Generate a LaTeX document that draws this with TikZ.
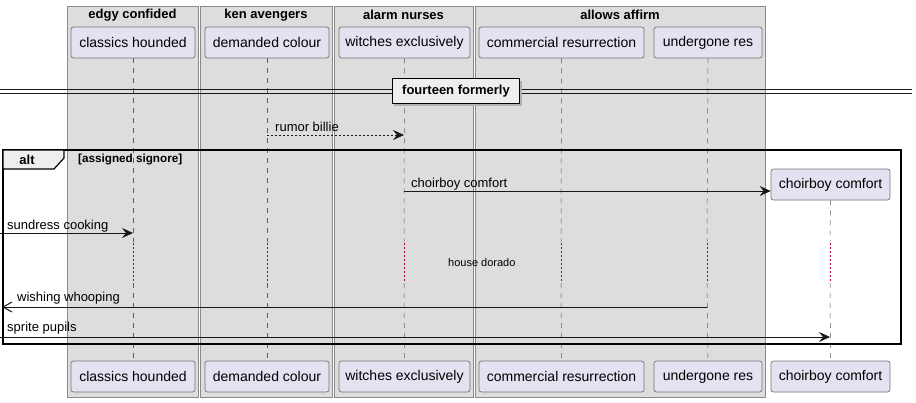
\documentclass[tikz,border=0pt]{standalone}
\usepackage{fontspec}
\setmainfont{Liberation Sans}
\usetikzlibrary{arrows.meta}
\definecolor{partfill}{HTML}{E2E2F0}
\definecolor{partline}{HTML}{181818}
\definecolor{boxfill}{HTML}{DDDDDD}
\definecolor{boxline}{HTML}{8A8A8A}
\definecolor{delayc}{HTML}{A80036}
\definecolor{tabfill}{HTML}{EEEEEE}
\tikzset{
  grpbox/.style={draw=boxline, fill=boxfill, line width=0.8pt},
  grptitle/.style={font=\fontsize{13}{15}\selectfont\bfseries, inner sep=0pt},
  part/.style={draw=partline!60, fill=partfill, rounded corners=2.5pt, line width=0.7pt,
    minimum height=31pt, inner sep=0pt, font=\fontsize{14}{16}\selectfont},
  life/.style={draw=partline!70, line width=0.5pt, dash pattern=on 5pt off 5pt},
  delaydot/.style={fill=delayc},
  msg/.style={draw=partline, line width=0.8pt, -{Stealth[length=11pt,width=10pt,inset=4pt]}},
  msgdash/.style={msg, dash pattern=on 2pt off 2pt},
  msgopen/.style={draw=partline, line width=0.8pt, -{Straight Barb[length=9pt,width=10pt,line width=1pt]}},
  lbl/.style={font=\fontsize{13}{15}\selectfont, inner sep=0pt, anchor=base west},
  small/.style={font=\fontsize{11}{13}\selectfont, inner sep=0pt},
}
\begin{document}
\begin{tikzpicture}[x=1pt,y=-1pt]
\useasboundingbox (0,0) rectangle (916,402);
% group boxes
\draw[grpbox] (67,6) rectangle (198,397);
\draw[grpbox] (200,6) rectangle (332,397);
\draw[grpbox] (334,6) rectangle (473,397);
\draw[grpbox] (475,6) rectangle (765,397);
\node[grptitle] (g1) at (132.5,15) {edgy confided};
\node[grptitle] (g2) at (266,15) {ken avengers};
\node[grptitle] (g3) at (403.5,15) {alarm nurses};
\node[grptitle] (g4) at (620,15) {allows affirm};
% participants top
\node[part, minimum width=124pt] (a1) at (133,42.5) {classics hounded};
\node[part, minimum width=124pt] (b1) at (267,42.5) {demanded colour};
\node[part, minimum width=131pt] (c1) at (404.5,42.5) {witches exclusively};
\node[part, minimum width=165pt] (d1) at (561.5,42.5) {commercial resurrection};
\node[part, minimum width=108pt] (e1) at (708,42.5) {undergone res};
\node[part, minimum width=119pt] (f1) at (830.5,184.5) {choirboy comfort};
% participants bottom
\node[part, minimum width=124pt] (a2) at (133,376.5) {classics hounded};
\node[part, minimum width=124pt] (b2) at (267,376.5) {demanded colour};
\node[part, minimum width=131pt] (c2) at (404.5,376.5) {witches exclusively};
\node[part, minimum width=165pt] (d2) at (561.5,376.5) {commercial resurrection};
\node[part, minimum width=108pt] (e2) at (708,376.5) {undergone res};
\node[part, minimum width=119pt] (f2) at (830.5,376.5) {choirboy comfort};
% lifelines with delay
\foreach \p/\q/\x in {a1/a2/133, b1/b2/267, c1/c2/404, d1/d2/561, e1/e2/707, f1/f2/830}{
  \coordinate (\p d1) at (\x,242);
  \coordinate (\p d2) at (\x,283);
  \draw[life] (\p.south) -- (\p d1);
  \foreach \yy in {243,247,...,281}{
    \fill[delaydot] (\x-0.5,\yy) rectangle (\x+0.6,\yy+1.6);
  }
  \draw[life] (\p d2) -- (\q.north);
}
% divider
\coordinate (dl) at (0,89);
\coordinate (dr) at (912,89);
\coordinate (dl2) at (0,93);
\coordinate (dr2) at (912,93);
\draw[partline, line width=1pt] (dl) -- (dr);
\draw[partline, line width=1pt] (dl2) -- (dr2);
\fill[gray!60] (394,81) rectangle (522,106);
\node[draw=black, fill=tabfill, line width=1.6pt, minimum width=127pt, minimum height=25pt, inner sep=0pt,
  font=\fontsize{13}{15}\selectfont\bfseries] (div) at (456,91) {fourteen formerly};
% rumor billie
\coordinate (rb1) at (267,135);
\coordinate (rb2) at (404,135);
\draw[msgdash] (rb1) -- (rb2);
\node[lbl] (lrb) at (275,131) {rumor billie};
% alt frame
\draw[black, line width=1.5pt] (3,150) rectangle (901,344);
\draw[black, line width=1.2pt, fill=tabfill] (3,150) -- (64,150) -- (64,158) -- (54,169) -- (3,169) -- cycle;
\node[font=\fontsize{13}{15}\selectfont\bfseries, inner sep=0pt] (alt) at (27,159.5) {alt};
\node[small, font=\fontsize{11.7}{13}\selectfont\bfseries, anchor=west] (guard) at (78,159) {[assigned signore]};
% choirboy comfort message
\coordinate (cc1) at (404,191);
\draw[msg] (cc1) -- (f1.west |- cc1);
\node[lbl] (lcc) at (411,187) {choirboy comfort};
% sundress cooking
\coordinate (sc1) at (0,233);
\coordinate (sc2) at (133,233);
\draw[msg] (sc1) -- (sc2);
\node[lbl] (lsc) at (7,229) {sundress cooking};
% house dorado
\node[small, anchor=west] (hd) at (448,263) {house dorado};
% wishing whooping
\coordinate (ww1) at (707,307);
\coordinate (ww2) at (2,307);
\draw[msgopen] (ww1) -- (ww2);
\node[lbl] (lww) at (17,301) {wishing whooping};
% sprite pupils
\coordinate (sp1) at (0,337);
\coordinate (sp2) at (830,337);
\draw[msg] (sp1) -- (sp2);
\node[lbl] (lsp) at (7,331) {sprite pupils};
\end{tikzpicture}
\end{document}
